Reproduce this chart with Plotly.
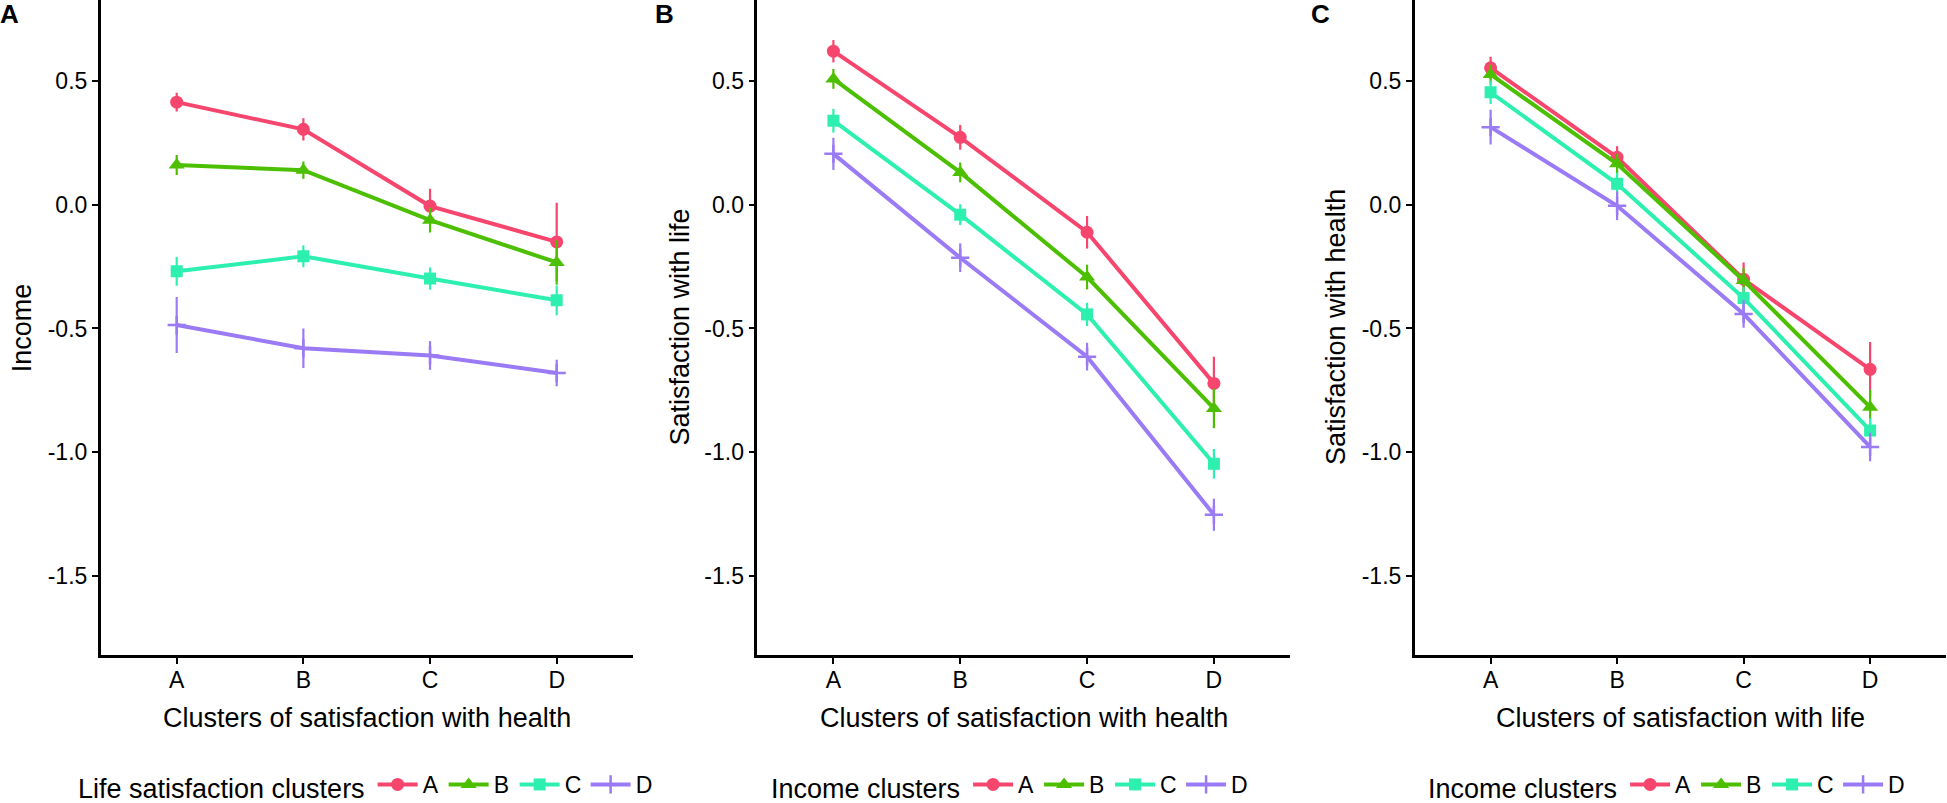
import plotly.graph_objects as go

# ---------------- data ----------------
clusters = ["A", "B", "C", "D"]
series_names = ["A", "B", "C", "D"]

# Panel A: Income by clusters of satisfaction with health (series = life satisfaction clusters)
incA_mean = [0.415, 0.305, -0.005, -0.150]
incA_err = [0.038, 0.045, 0.070, 0.158]
incB_mean = [0.161, 0.140, -0.062, -0.233]
incB_err = [0.040, 0.035, 0.050, 0.090]
incC_mean = [-0.269, -0.208, -0.298, -0.386]
incC_err = [0.058, 0.044, 0.045, 0.060]
incD_mean = [-0.486, -0.580, -0.609, -0.680]
incD_err = [0.113, 0.080, 0.058, 0.054]

# Panel B: Satisfaction with life by clusters of satisfaction with health (series = income clusters)
lifeA_mean = [0.621, 0.273, -0.111, -0.722]
lifeA_err = [0.045, 0.050, 0.066, 0.108]
lifeB_mean = [0.509, 0.131, -0.292, -0.823]
lifeB_err = [0.040, 0.040, 0.050, 0.080]
lifeC_mean = [0.340, -0.040, -0.443, -1.047]
lifeC_err = [0.048, 0.042, 0.047, 0.060]
lifeD_mean = [0.206, -0.214, -0.614, -1.253]
lifeD_err = [0.065, 0.058, 0.056, 0.065]

# Panel C: Satisfaction with health by clusters of satisfaction with life (series = income clusters)
hlthA_mean = [0.554, 0.192, -0.301, -0.665]
hlthA_err = [0.045, 0.045, 0.068, 0.110]
hlthB_mean = [0.527, 0.166, -0.306, -0.818]
hlthB_err = [0.040, 0.040, 0.050, 0.070]
hlthC_mean = [0.455, 0.085, -0.377, -0.912]
hlthC_err = [0.047, 0.045, 0.044, 0.050]
hlthD_mean = [0.314, -0.004, -0.441, -0.979]
hlthD_err = [0.070, 0.058, 0.056, 0.058]

y_tickvals = [-1.5, -1.0, -0.5, 0.0, 0.5]
y_ticktext = ["-1.5", "-1.0", "-0.5", "0.0", "0.5"]

panel_letters = ["A", "B", "C"]
y_titles = ["Income", "Satisfaction with life", "Satisfaction with health"]
x_titles = ["Clusters of satisfaction with health",
            "Clusters of satisfaction with health",
            "Clusters of satisfaction with life"]
legend_titles = ["Life satisfaction clusters", "Income clusters", "Income clusters"]

# ---------------- styling ----------------
W, H = 1947, 803
FONT = "Liberation Sans, Arial, Helvetica, sans-serif"
colors = ["#F6466E", "#4CBF00", "#2DF0B0", "#9A7AF5"]
symbols = ["circle", "triangle-up", "square", "cross-thin"]
msizes = [13, 14, 12, 13]

panels = [
    ([incA_mean, incB_mean, incC_mean, incD_mean], [incA_err, incB_err, incC_err, incD_err]),
    ([lifeA_mean, lifeB_mean, lifeC_mean, lifeD_mean], [lifeA_err, lifeB_err, lifeC_err, lifeD_err]),
    ([hlthA_mean, hlthB_mean, hlthC_mean, hlthD_mean], [hlthA_err, hlthB_err, hlthC_err, hlthD_err]),
]

# plot areas in pixels
x_px = [(100.7, 632.7), (757.3, 1290.0), (1414.7, 1946.0)]
y_top_px, y_bot_px = 0, 655
y_dom = [1 - y_bot_px / H, 1 - y_top_px / H]
legend_x_px = [76, 769, 1426]
ytitle_x_px = [21.7, 679.0, 1335.5]
label_x_px = [-1, 654, 1310]

fig = go.Figure()
legend_ids = ["legend", "legend2", "legend3"]

for p, (means, errs) in enumerate(panels):
    xa = "x" if p == 0 else f"x{p+1}"
    ya = "y" if p == 0 else f"y{p+1}"
    for i, name in enumerate(series_names):
        is_cross = symbols[i] == "cross-thin"
        fig.add_trace(go.Scatter(
            x=clusters, y=means[i], name=name, mode="lines+markers",
            xaxis=xa, yaxis=ya, legend=legend_ids[p],
            line=dict(color=colors[i], width=4),
            marker=dict(symbol=symbols[i], size=msizes[i], color=colors[i],
                        line=dict(color=colors[i], width=2.5 if is_cross else 0)),
            error_y=dict(type="data", array=errs[i], visible=True,
                         color=colors[i], thickness=2.2, width=0),
            hoverinfo="x+y+name",
        ))

layout = dict(
    width=W, height=H, autosize=False,
    margin=dict(l=0, r=0, t=0, b=0, pad=0, autoexpand=False),
    paper_bgcolor="white", plot_bgcolor="white",
    font=dict(family=FONT, color="black", size=23),
    showlegend=True,
)

annotations = []
for p in range(3):
    xk = "xaxis" if p == 0 else f"xaxis{p+1}"
    yk = "yaxis" if p == 0 else f"yaxis{p+1}"
    x0, x1 = x_px[p]
    layout[xk] = dict(
        domain=[x0 / W, x1 / W], anchor="y" if p == 0 else f"y{p+1}",
        type="category", categoryorder="array", categoryarray=clusters,
        range=[-0.6, 3.6], showgrid=False, zeroline=False,
        showline=True, linecolor="black", linewidth=2.5,
        ticks="outside", ticklen=6, tickwidth=1.6, tickcolor="black",
        tickfont=dict(size=23, family=FONT, color="black"),
        ticklabelstandoff=-3,
        fixedrange=True,
    )
    layout[yk] = dict(
        domain=y_dom, anchor="x" if p == 0 else f"x{p+1}",
        range=[-1.82, 0.828], showgrid=False, zeroline=False,
        showline=True, linecolor="black", linewidth=2.5,
        ticks="outside", ticklen=6, tickwidth=1.6, tickcolor="black",
        tickvals=y_tickvals, ticktext=y_ticktext,
        tickfont=dict(size=23, family=FONT, color="black"),
        ticklabelstandoff=0,
        fixedrange=True,
    )
    # axis titles
    annotations.append(dict(
        text=x_titles[p], xref="paper", yref="paper",
        x=(x0 + x1) / 2 / W, y=1 - 718 / H, xanchor="center", yanchor="middle",
        showarrow=False, font=dict(size=27, family=FONT, color="black")))
    annotations.append(dict(
        text=y_titles[p], xref="paper", yref="paper", textangle=-90,
        x=ytitle_x_px[p] / W, y=1 - 327.5 / H, xanchor="center", yanchor="middle",
        showarrow=False, font=dict(size=27, family=FONT, color="black")))
    # panel letters
    annotations.append(dict(
        text="<b>" + panel_letters[p] + "</b>", xref="paper", yref="paper",
        x=label_x_px[p] / W, y=1 + 2 / H, xanchor="left", yanchor="top",
        borderpad=0,
        showarrow=False, font=dict(size=26, family=FONT, color="black")))
    # legends
    layout[legend_ids[p]] = dict(
        orientation="h", x=legend_x_px[p] / W, xanchor="left",
        y=1 - 786 / H, yanchor="middle",
        title=dict(text=legend_titles[p], side="left",
                   font=dict(size=27, family=FONT, color="black")),
        font=dict(size=23, family=FONT, color="black"),
        itemwidth=40, entrywidth=16, entrywidthmode="pixels",
        bgcolor="rgba(0,0,0,0)", borderwidth=0,
        traceorder="normal", itemclick=False, itemdoubleclick=False,
    )

layout["annotations"] = annotations
fig.update_layout(**layout)

fig.write_html(
    "out.html", include_plotlyjs=True, config={"displayModeBar": False},
    post_script="document.body.style.margin='0px';document.body.style.overflow='hidden';",
)
